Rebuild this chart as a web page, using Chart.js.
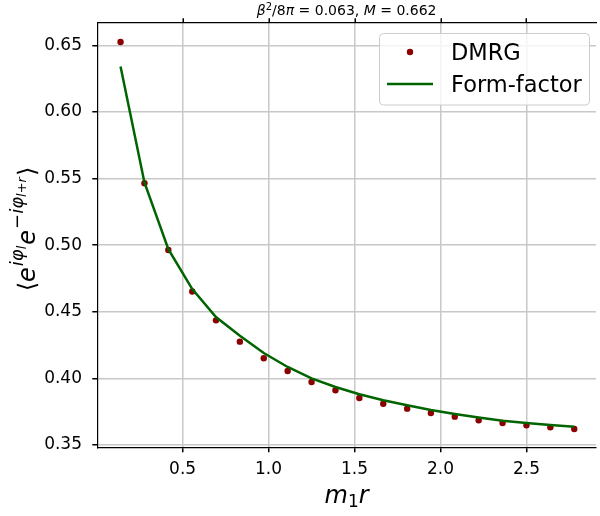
<!DOCTYPE html>
<html>
<head>
<meta charset="utf-8">
<script src="https://cdn.jsdelivr.net/npm/chart.js@4"></script>
<style>
    body { margin: 0; background: #fff; }
    canvas { display: block; }
</style>
</head>
<body>
<canvas id="chart" width="600" height="516"></canvas>
<script>
// m1*r values (same grid for both series)
let m1r = [0.139, 0.278, 0.417, 0.556, 0.694, 0.833, 0.972, 1.111, 1.250, 1.389,
           1.528, 1.667, 1.806, 1.944, 2.083, 2.222, 2.361, 2.500, 2.639, 2.778];
let dmrg = [0.6525, 0.5464, 0.4963, 0.4652, 0.4435, 0.4275, 0.4150, 0.4055, 0.3972, 0.3910,
            0.3852, 0.3809, 0.3772, 0.3739, 0.3712, 0.3685, 0.3664, 0.3647, 0.3632, 0.3619];
let formFactor = [0.6340, 0.5470, 0.4970, 0.4670, 0.4460, 0.4320, 0.4190, 0.4085, 0.4000, 0.3935,
                  0.3880, 0.3835, 0.3797, 0.3762, 0.3732, 0.3705, 0.3682, 0.3664, 0.3649, 0.3636];
let xTicks = [0.5, 1.0, 1.5, 2.0, 2.5];
let yTicks = [0.35, 0.40, 0.45, 0.50, 0.55, 0.60, 0.65];

const FONT = "'DejaVu Sans', sans-serif";

function fontOf(p) {
    return (p.it ? "italic " : "") + p.size + "px " + FONT;
}

// draws mathtext-like label made of pieces, centred on (x, y) baseline
function drawRich(ctx, parts, x, y, angle) {
    ctx.save();
    ctx.translate(x, y);
    ctx.rotate(angle);
    let widths = parts.map(p => { ctx.font = fontOf(p); return ctx.measureText(p.t).width + (p.gap || 0); });
    let total = widths.reduce((a, b) => a + b, 0);
    let cx = -total / 2;
    ctx.textAlign = "left";
    ctx.textBaseline = "alphabetic";
    ctx.fillStyle = "#000";
    parts.forEach((p, i) => {
        ctx.font = fontOf(p);
        ctx.fillText(p.t, cx, p.dy || 0);
        cx += widths[i];
    });
    ctx.restore();
}

let labelsPlugin = {
    id: "labels",
    afterDraw(chart) {
        let ctx = chart.ctx;
        let area = chart.chartArea;
        let mid = (area.left + area.right) / 2;

        // tick marks on the top spine
        let top = chart.scales.xTop;
        ctx.save();
        ctx.strokeStyle = "#000";
        ctx.lineWidth = 1.5;
        xTicks.forEach(v => {
            let px = Math.round(top.getPixelForValue(v)) + 0.25;
            ctx.beginPath();
            ctx.moveTo(px, area.top);
            ctx.lineTo(px, area.top - 4.5);
            ctx.stroke();
        });
        ctx.restore();

        drawRich(ctx, [
            { t: "β", size: 14, it: true },
            { t: "2", size: 10, dy: -5.5 },
            { t: "/8", size: 14 },
            { t: "π", size: 14, it: true },
            { t: " = 0.063, ", size: 14 },
            { t: "M", size: 14, it: true },
            { t: " = 0.662", size: 14 }
        ], mid, 15, 0);

        drawRich(ctx, [
            { t: "m", size: 24, it: true },
            { t: "1", size: 17, dy: 4 },
            { t: "r", size: 24, it: true }
        ], mid, 503, 0);

        drawRich(ctx, [
            { t: "⟨", size: 24 },
            { t: "e", size: 24, it: true, gap: 1 },
            { t: "iφ", size: 18, it: true, dy: -12 },
            { t: "l", size: 13, it: true, dy: -9, gap: 1 },
            { t: "e", size: 24, it: true, gap: 1 },
            { t: "−", size: 18, dy: -12 },
            { t: "iφ", size: 18, it: true, dy: -12 },
            { t: "l+r", size: 13, it: true, dy: -9, gap: 1 },
            { t: "⟩", size: 24 }
        ], 35, 229, -Math.PI / 2);

        // legend box, drawn from the datasets' own styles
        let sets = chart.data.datasets;
        ctx.save();
        ctx.beginPath();
        ctx.roundRect(379.5, 33.5, 210, 71.5, 4);
        ctx.fillStyle = "rgba(255,255,255,0.8)";
        ctx.fill();
        ctx.strokeStyle = "#cccccc";
        ctx.lineWidth = 1;
        ctx.stroke();

        ctx.beginPath();
        ctx.arc(410, 52, 3.2, 0, Math.PI * 2);
        ctx.fillStyle = sets[0].backgroundColor;
        ctx.fill();

        ctx.beginPath();
        ctx.moveTo(387, 84);
        ctx.lineTo(433, 84);
        ctx.strokeStyle = sets[1].borderColor;
        ctx.lineWidth = sets[1].borderWidth;
        ctx.stroke();

        ctx.fillStyle = "#000";
        ctx.font = "22.5px " + FONT;
        ctx.textAlign = "left";
        ctx.textBaseline = "alphabetic";
        ctx.fillText(sets[0].label, 451, 60);
        ctx.fillText(sets[1].label, 451, 92);
        ctx.restore();
    }
};

let tickFont = { family: FONT, size: 17 };

let chart = new Chart(document.getElementById("chart"), {
    type: "scatter",
    data: {
        datasets: [
            {
                label: "DMRG",
                data: m1r.map((x, i) => ({ x: x, y: dmrg[i] })),
                backgroundColor: "#8b0000",
                borderColor: "#8b0000",
                pointRadius: 3.2,
                pointBorderWidth: 0,
                showLine: false,
                order: 1
            },
            {
                label: "Form-factor",
                data: m1r.map((x, i) => ({ x: x, y: formFactor[i] })),
                borderColor: "#006400",
                backgroundColor: "#006400",
                borderWidth: 2.5,
                pointRadius: 0,
                showLine: true,
                tension: 0,
                order: 0
            }
        ]
    },
    options: {
        responsive: false,
        devicePixelRatio: 1,
        animation: false,
        layout: { padding: 0 },
        plugins: {
            legend: { display: false },
            tooltip: { enabled: false }
        },
        scales: {
            x: {
                type: "linear",
                position: "bottom",
                min: 0.0038,
                max: 2.9044,
                afterBuildTicks: s => { s.ticks = xTicks.map(v => ({ value: v })); },
                afterFit: s => { s.height = 68.7; },
                ticks: {
                    font: tickFont,
                    color: "#000",
                    padding: 7,
                    maxRotation: 0,
                    callback: v => v.toFixed(1)
                },
                grid: {
                    color: "#c8c8c8",
                    lineWidth: 1.5,
                    tickColor: "#000",
                    tickLength: 5,
                    tickWidth: 1.5
                },
                border: { color: "#000", width: 1.2 }
            },
            xTop: {
                type: "linear",
                position: "top",
                min: 0.0038,
                max: 2.9044,
                afterBuildTicks: s => { s.ticks = xTicks.map(v => ({ value: v })); },
                afterFit: s => { s.height = 22.7; },
                ticks: { display: false },
                grid: { display: false },
                border: { color: "#000", width: 1.2 }
            },
            y: {
                type: "linear",
                position: "left",
                min: 0.3482,
                max: 0.66697,
                afterBuildTicks: s => { s.ticks = yTicks.map(v => ({ value: v })); },
                afterFit: s => { s.width = 97.3; },
                ticks: {
                    font: tickFont,
                    color: "#000",
                    padding: 10.3,
                    callback: v => v.toFixed(2)
                },
                grid: {
                    color: "#c8c8c8",
                    lineWidth: 1.5,
                    tickColor: "#000",
                    tickLength: 5,
                    tickWidth: 1.5
                },
                border: { color: "#000", width: 1.2 }
            }
        }
    },
    plugins: [labelsPlugin]
});
</script>
</body>
</html>
